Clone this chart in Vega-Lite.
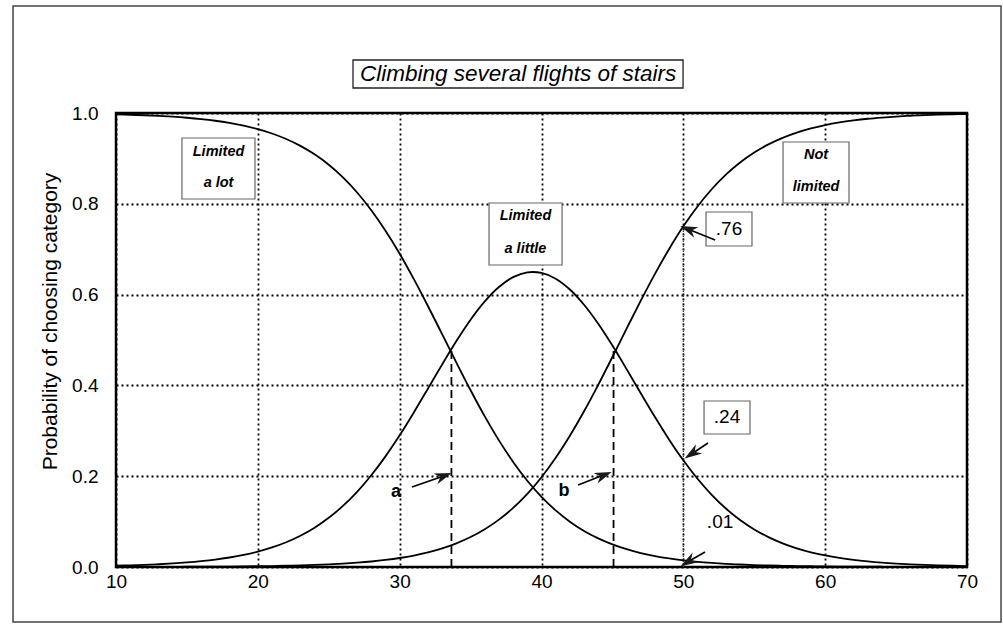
{
  "$schema": "https://vega.github.io/schema/vega-lite/v6.json",
  "width": 851,
  "height": 454,
  "autosize": "none",
  "padding": {"left": 116, "top": 113, "right": 36, "bottom": 57},
  "background": "white",
  "config": {
    "font": "Liberation Sans",
    "view": {"stroke": "black", "strokeWidth": 2.5},
    "axis": {
      "domain": false,
      "ticks": false,
      "grid": true,
      "gridColor": "black",
      "gridDash": [2, 3],
      "gridWidth": 1.8,
      "gridOpacity": 1,
      "labelFlush": false,
      "labelOverlap": false,
      "labelFont": "Liberation Sans",
      "labelColor": "black",
      "titleFont": "Liberation Sans",
      "titleColor": "black"
    }
  },
  "datasets": {
    "curves": [
      {"x":10,"y":0.997,"s":"Limited a lot"},{"x":11,"y":0.9961,"s":"Limited a lot"},{"x":12,"y":0.995,"s":"Limited a lot"},{"x":13,"y":0.9936,"s":"Limited a lot"},{"x":14,"y":0.9918,"s":"Limited a lot"},{"x":15,"y":0.9895,"s":"Limited a lot"},{"x":16,"y":0.9866,"s":"Limited a lot"},{"x":17,"y":0.9829,"s":"Limited a lot"},{"x":18,"y":0.9781,"s":"Limited a lot"},{"x":19,"y":0.9721,"s":"Limited a lot"},{"x":20,"y":0.9644,"s":"Limited a lot"},{"x":21,"y":0.9548,"s":"Limited a lot"},{"x":22,"y":0.9427,"s":"Limited a lot"},{"x":23,"y":0.9276,"s":"Limited a lot"},{"x":24,"y":0.9089,"s":"Limited a lot"},{"x":25,"y":0.886,"s":"Limited a lot"},{"x":26,"y":0.8582,"s":"Limited a lot"},{"x":27,"y":0.8249,"s":"Limited a lot"},{"x":28,"y":0.7858,"s":"Limited a lot"},{"x":29,"y":0.7408,"s":"Limited a lot"},{"x":30,"y":0.6901,"s":"Limited a lot"},{"x":31,"y":0.6341,"s":"Limited a lot"},{"x":32,"y":0.5744,"s":"Limited a lot"},{"x":33,"y":0.5125,"s":"Limited a lot"},{"x":34,"y":0.4502,"s":"Limited a lot"},{"x":35,"y":0.3894,"s":"Limited a lot"},{"x":36,"y":0.3318,"s":"Limited a lot"},{"x":37,"y":0.2789,"s":"Limited a lot"},{"x":38,"y":0.2315,"s":"Limited a lot"},{"x":39,"y":0.19,"s":"Limited a lot"},{"x":40,"y":0.1545,"s":"Limited a lot"},{"x":41,"y":0.1246,"s":"Limited a lot"},{"x":42,"y":0.0998,"s":"Limited a lot"},{"x":43,"y":0.0794,"s":"Limited a lot"},{"x":44,"y":0.063,"s":"Limited a lot"},{"x":45,"y":0.0497,"s":"Limited a lot"},{"x":46,"y":0.0392,"s":"Limited a lot"},{"x":47,"y":0.0308,"s":"Limited a lot"},{"x":48,"y":0.0241,"s":"Limited a lot"},{"x":49,"y":0.0189,"s":"Limited a lot"},{"x":50,"y":0.0148,"s":"Limited a lot"},{"x":51,"y":0.0115,"s":"Limited a lot"},{"x":52,"y":0.009,"s":"Limited a lot"},{"x":53,"y":0.007,"s":"Limited a lot"},{"x":54,"y":0.0055,"s":"Limited a lot"},{"x":55,"y":0.0043,"s":"Limited a lot"},{"x":56,"y":0.0033,"s":"Limited a lot"},{"x":57,"y":0.0026,"s":"Limited a lot"},{"x":58,"y":0.002,"s":"Limited a lot"},{"x":59,"y":0.0016,"s":"Limited a lot"},{"x":60,"y":0.0012,"s":"Limited a lot"},{"x":61,"y":0.001,"s":"Limited a lot"},{"x":62,"y":0.0008,"s":"Limited a lot"},{"x":63,"y":0.0006,"s":"Limited a lot"},{"x":64,"y":0.0005,"s":"Limited a lot"},{"x":65,"y":0.0004,"s":"Limited a lot"},{"x":66,"y":0.0003,"s":"Limited a lot"},{"x":67,"y":0.0002,"s":"Limited a lot"},{"x":68,"y":0.0002,"s":"Limited a lot"},{"x":69,"y":0.0001,"s":"Limited a lot"},{"x":70,"y":0.0001,"s":"Limited a lot"},
      {"x":10,"y":0.0029,"s":"Limited a little"},{"x":11,"y":0.0037,"s":"Limited a little"},{"x":12,"y":0.0047,"s":"Limited a little"},{"x":13,"y":0.0061,"s":"Limited a little"},{"x":14,"y":0.0078,"s":"Limited a little"},{"x":15,"y":0.01,"s":"Limited a little"},{"x":16,"y":0.0128,"s":"Limited a little"},{"x":17,"y":0.0163,"s":"Limited a little"},{"x":18,"y":0.0209,"s":"Limited a little"},{"x":19,"y":0.0266,"s":"Limited a little"},{"x":20,"y":0.0339,"s":"Limited a little"},{"x":21,"y":0.0431,"s":"Limited a little"},{"x":22,"y":0.0546,"s":"Limited a little"},{"x":23,"y":0.0689,"s":"Limited a little"},{"x":24,"y":0.0866,"s":"Limited a little"},{"x":25,"y":0.1083,"s":"Limited a little"},{"x":26,"y":0.1345,"s":"Limited a little"},{"x":27,"y":0.1656,"s":"Limited a little"},{"x":28,"y":0.2021,"s":"Limited a little"},{"x":29,"y":0.2437,"s":"Limited a little"},{"x":30,"y":0.2901,"s":"Limited a little"},{"x":31,"y":0.3405,"s":"Limited a little"},{"x":32,"y":0.3933,"s":"Limited a little"},{"x":33,"y":0.4464,"s":"Limited a little"},{"x":34,"y":0.4977,"s":"Limited a little"},{"x":35,"y":0.5447,"s":"Limited a little"},{"x":36,"y":0.585,"s":"Limited a little"},{"x":37,"y":0.6168,"s":"Limited a little"},{"x":38,"y":0.6384,"s":"Limited a little"},{"x":39,"y":0.6489,"s":"Limited a little"},{"x":40,"y":0.6477,"s":"Limited a little"},{"x":41,"y":0.635,"s":"Limited a little"},{"x":42,"y":0.6112,"s":"Limited a little"},{"x":43,"y":0.5776,"s":"Limited a little"},{"x":44,"y":0.5357,"s":"Limited a little"},{"x":45,"y":0.4877,"s":"Limited a little"},{"x":46,"y":0.4359,"s":"Limited a little"},{"x":47,"y":0.3826,"s":"Limited a little"},{"x":48,"y":0.3302,"s":"Limited a little"},{"x":49,"y":0.2805,"s":"Limited a little"},{"x":50,"y":0.235,"s":"Limited a little"},{"x":51,"y":0.1943,"s":"Limited a little"},{"x":52,"y":0.159,"s":"Limited a little"},{"x":53,"y":0.1288,"s":"Limited a little"},{"x":54,"y":0.1036,"s":"Limited a little"},{"x":55,"y":0.0828,"s":"Limited a little"},{"x":56,"y":0.0658,"s":"Limited a little"},{"x":57,"y":0.0521,"s":"Limited a little"},{"x":58,"y":0.0411,"s":"Limited a little"},{"x":59,"y":0.0323,"s":"Limited a little"},{"x":60,"y":0.0254,"s":"Limited a little"},{"x":61,"y":0.0199,"s":"Limited a little"},{"x":62,"y":0.0156,"s":"Limited a little"},{"x":63,"y":0.0122,"s":"Limited a little"},{"x":64,"y":0.0095,"s":"Limited a little"},{"x":65,"y":0.0074,"s":"Limited a little"},{"x":66,"y":0.0058,"s":"Limited a little"},{"x":67,"y":0.0045,"s":"Limited a little"},{"x":68,"y":0.0035,"s":"Limited a little"},{"x":69,"y":0.0027,"s":"Limited a little"},{"x":70,"y":0.0021,"s":"Limited a little"},
      {"x":10,"y":0.0001,"s":"Not limited"},{"x":11,"y":0.0002,"s":"Not limited"},{"x":12,"y":0.0002,"s":"Not limited"},{"x":13,"y":0.0003,"s":"Not limited"},{"x":14,"y":0.0004,"s":"Not limited"},{"x":15,"y":0.0005,"s":"Not limited"},{"x":16,"y":0.0006,"s":"Not limited"},{"x":17,"y":0.0008,"s":"Not limited"},{"x":18,"y":0.001,"s":"Not limited"},{"x":19,"y":0.0013,"s":"Not limited"},{"x":20,"y":0.0017,"s":"Not limited"},{"x":21,"y":0.0021,"s":"Not limited"},{"x":22,"y":0.0027,"s":"Not limited"},{"x":23,"y":0.0035,"s":"Not limited"},{"x":24,"y":0.0045,"s":"Not limited"},{"x":25,"y":0.0058,"s":"Not limited"},{"x":26,"y":0.0074,"s":"Not limited"},{"x":27,"y":0.0095,"s":"Not limited"},{"x":28,"y":0.0121,"s":"Not limited"},{"x":29,"y":0.0155,"s":"Not limited"},{"x":30,"y":0.0198,"s":"Not limited"},{"x":31,"y":0.0253,"s":"Not limited"},{"x":32,"y":0.0323,"s":"Not limited"},{"x":33,"y":0.0411,"s":"Not limited"},{"x":34,"y":0.0522,"s":"Not limited"},{"x":35,"y":0.066,"s":"Not limited"},{"x":36,"y":0.0832,"s":"Not limited"},{"x":37,"y":0.1043,"s":"Not limited"},{"x":38,"y":0.1301,"s":"Not limited"},{"x":39,"y":0.1611,"s":"Not limited"},{"x":40,"y":0.1978,"s":"Not limited"},{"x":41,"y":0.2405,"s":"Not limited"},{"x":42,"y":0.2891,"s":"Not limited"},{"x":43,"y":0.343,"s":"Not limited"},{"x":44,"y":0.4013,"s":"Not limited"},{"x":45,"y":0.4626,"s":"Not limited"},{"x":46,"y":0.525,"s":"Not limited"},{"x":47,"y":0.5866,"s":"Not limited"},{"x":48,"y":0.6457,"s":"Not limited"},{"x":49,"y":0.7006,"s":"Not limited"},{"x":50,"y":0.7503,"s":"Not limited"},{"x":51,"y":0.7941,"s":"Not limited"},{"x":52,"y":0.832,"s":"Not limited"},{"x":53,"y":0.8641,"s":"Not limited"},{"x":54,"y":0.8909,"s":"Not limited"},{"x":55,"y":0.9129,"s":"Not limited"},{"x":56,"y":0.9309,"s":"Not limited"},{"x":57,"y":0.9453,"s":"Not limited"},{"x":58,"y":0.9569,"s":"Not limited"},{"x":59,"y":0.9661,"s":"Not limited"},{"x":60,"y":0.9734,"s":"Not limited"},{"x":61,"y":0.9792,"s":"Not limited"},{"x":62,"y":0.9837,"s":"Not limited"},{"x":63,"y":0.9873,"s":"Not limited"},{"x":64,"y":0.99,"s":"Not limited"},{"x":65,"y":0.9922,"s":"Not limited"},{"x":66,"y":0.9939,"s":"Not limited"},{"x":67,"y":0.9953,"s":"Not limited"},{"x":68,"y":0.9963,"s":"Not limited"},{"x":69,"y":0.9971,"s":"Not limited"},{"x":70,"y":0.9978,"s":"Not limited"}
    ],
    "frame": [{"x": 2.74, "x2": 72.4, "y": 1.2357, "y2": -0.1211}],
    "titleBox": [{"x": 26.71, "x2": 49.98, "y": 1.1167, "y2": 1.0551}],
    "boxes": [
      {"x": 14.65, "x2": 19.8, "y": 0.9449, "y2": 0.8106, "kind": "Limited a lot"},
      {"x": 36.3, "x2": 41.45, "y": 0.8018, "y2": 0.6652, "kind": "Limited a little"},
      {"x": 57.03, "x2": 61.68, "y": 0.9361, "y2": 0.8018, "kind": "Not limited"},
      {"x": 51.6, "x2": 54.84, "y": 0.7819, "y2": 0.707, "kind": ".76"},
      {"x": 51.46, "x2": 54.7, "y": 0.3656, "y2": 0.293, "kind": ".24"}
    ],
    "titleText": [{"x": 38.35, "y": 1.0859, "label": "Climbing several flights of stairs"}],
    "catText": [
      {"x": 17.23, "y": 0.914, "label": "Limited"},
      {"x": 17.23, "y": 0.846, "label": "a lot"},
      {"x": 38.87, "y": 0.773, "label": "Limited"},
      {"x": 38.87, "y": 0.7, "label": "a little"},
      {"x": 59.36, "y": 0.9075, "label": "Not"},
      {"x": 59.36, "y": 0.837, "label": "limited"}
    ],
    "valText": [
      {"x": 53.22, "y": 0.7445, "label": ".76"},
      {"x": 53.08, "y": 0.3304, "label": ".24"},
      {"x": 52.59, "y": 0.0991, "label": ".01"}
    ],
    "letterText": [
      {"x": 29.74, "y": 0.165, "label": "a"},
      {"x": 41.59, "y": 0.167, "label": "b"}
    ],
    "dashes": [
      {"x": 33.65, "y": 0, "y2": 0.478},
      {"x": 45.08, "y": 0, "y2": 0.478}
    ],
    "dense": [{"x": 50, "y": 0, "y2": 0.75}],
    "arrows": [
      {"x": 30.87, "y": 0.1762, "x2": 33.1, "y2": 0.2005, "angle": 340.6},
      {"x": 42.58, "y": 0.1806, "x2": 44.38, "y2": 0.2025, "angle": 338.8},
      {"x": 52.24, "y": 0.7203, "x2": 50.35, "y2": 0.744, "angle": 202.1},
      {"x": 51.74, "y": 0.2731, "x2": 50.6, "y2": 0.2495, "angle": 146.3},
      {"x": 51.53, "y": 0.033, "x2": 50.33, "y2": 0.0115, "angle": 149.4}
    ]
  },
  "encoding": {
    "x": {
      "field": "x", "type": "quantitative",
      "scale": {"domain": [10, 70], "nice": false, "zero": false},
      "axis": {"values": [10, 20, 30, 40, 50, 60, 70], "labelPadding": 5, "labelFontSize": 19, "title": null}
    },
    "y": {
      "field": "y", "type": "quantitative",
      "scale": {"domain": [0, 1], "nice": false, "zero": false},
      "axis": {
        "values": [0, 0.2, 0.4, 0.6, 0.8, 1], "format": ".1f", "labelPadding": 18, "labelFontSize": 19,
        "title": "Probability of choosing category",
        "titleFontSize": 21, "titleFontWeight": "normal",
        "titleAngle": -90, "titleX": -66, "titleY": 208,
        "titleAlign": "center", "titleBaseline": "middle"
      }
    }
  },
  "layer": [
    {
      "data": {"name": "frame"},
      "mark": {"type": "rect", "fill": null, "fillOpacity": 0, "stroke": "#444", "strokeWidth": 1.5},
      "encoding": {"x2": {"field": "x2"}, "y2": {"field": "y2"}}
    },
    {
      "data": {"name": "dense"},
      "mark": {"type": "rule", "color": "#333", "strokeDash": [1, 1.5], "strokeWidth": 1.2},
      "encoding": {"y2": {"field": "y2"}}
    },
    {
      "data": {"name": "curves"},
      "mark": {"type": "line", "color": "black", "strokeWidth": 1.8, "interpolate": "catmull-rom"},
      "encoding": {"detail": {"field": "s", "type": "nominal"}}
    },
    {
      "data": {"name": "dashes"},
      "mark": {"type": "rule", "color": "black", "strokeDash": [8, 5], "strokeWidth": 1.8},
      "encoding": {"y2": {"field": "y2"}}
    },
    {
      "data": {"name": "titleBox"},
      "mark": {"type": "rect", "fill": "white", "stroke": "#222", "strokeWidth": 1.3},
      "encoding": {"x2": {"field": "x2"}, "y2": {"field": "y2"}}
    },
    {
      "data": {"name": "boxes"},
      "mark": {"type": "rect", "fill": "white", "stroke": "#666", "strokeWidth": 1.2},
      "encoding": {"x2": {"field": "x2"}, "y2": {"field": "y2"}}
    },
    {
      "data": {"name": "titleText"},
      "mark": {"type": "text", "font": "Liberation Sans", "fontSize": 22.5, "fontStyle": "italic", "color": "black", "align": "center", "baseline": "middle"},
      "encoding": {"text": {"field": "label"}}
    },
    {
      "data": {"name": "catText"},
      "mark": {"type": "text", "font": "Liberation Sans", "fontSize": 14.5, "fontStyle": "italic", "fontWeight": "bold", "color": "black", "align": "center", "baseline": "middle"},
      "encoding": {"text": {"field": "label"}}
    },
    {
      "data": {"name": "valText"},
      "mark": {"type": "text", "font": "Liberation Sans", "fontSize": 19, "color": "black", "align": "center", "baseline": "middle"},
      "encoding": {"text": {"field": "label"}}
    },
    {
      "data": {"name": "letterText"},
      "mark": {"type": "text", "font": "Liberation Sans", "fontSize": 18, "fontWeight": "bold", "color": "black", "align": "center", "baseline": "middle"},
      "encoding": {"text": {"field": "label"}}
    },
    {
      "data": {"name": "arrows"},
      "mark": {"type": "rule", "color": "black", "strokeWidth": 1.6},
      "encoding": {"x2": {"field": "x2"}, "y2": {"field": "y2"}}
    },
    {
      "data": {"name": "arrows"},
      "mark": {"type": "point", "shape": "M-1,-0.65L1,0L-1,0.65L-0.4,0Z", "filled": true, "color": "#1a1a1a", "opacity": 1, "size": 300},
      "encoding": {
        "x": {"field": "x2", "type": "quantitative"},
        "y": {"field": "y2", "type": "quantitative"},
        "angle": {"field": "angle", "type": "quantitative", "scale": null}
      }
    }
  ]
}
